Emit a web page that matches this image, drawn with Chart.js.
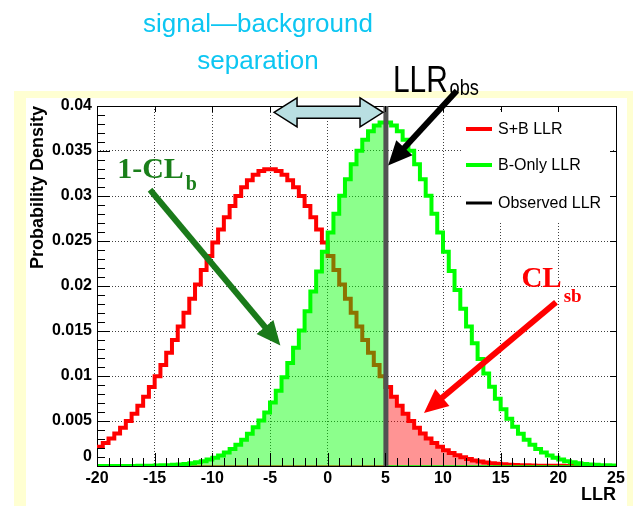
<!DOCTYPE html>
<html>
<head>
<meta charset="utf-8">
<script src="https://cdn.jsdelivr.net/npm/chart.js@4.4.1/dist/chart.umd.min.js"></script>
<style>
  html, body { margin: 0; padding: 0; background: #ffffff; }
  #wrap { position: relative; width: 633px; height: 506px; }
</style>
</head>
<body>
<div id="wrap"><canvas id="llr" width="633" height="506"></canvas></div>
<script>
// Histogram range of the log-likelihood ratio
const llrMin = -20;
const llrMax = 25;
const binWidth = 0.5;
const llrObserved = 5.05;

// S+B hypothesis: probability density per bin
const sbDensity = [
  0.00213, 0.00256, 0.00305, 0.00362, 0.00426, 0.00499, 0.00580, 0.00670, 0.00770, 0.00879,
  0.00997, 0.01123, 0.01258, 0.01401, 0.01549, 0.01702, 0.01859, 0.02018, 0.02177, 0.02332,
  0.02484, 0.02628, 0.02764, 0.02889, 0.03000, 0.03096, 0.03175, 0.03236, 0.03277, 0.03297,
  0.03297, 0.03277, 0.03236, 0.03175, 0.03096, 0.03000, 0.02889, 0.02764, 0.02628, 0.02484,
  0.02332, 0.02177, 0.02018, 0.01859, 0.01702, 0.01549, 0.01401, 0.01258, 0.01123, 0.00997,
  0.00879, 0.00770, 0.00670, 0.00580, 0.00499, 0.00426, 0.00362, 0.00305, 0.00256, 0.00213,
  0.00176, 0.00145, 0.00119, 0.00096, 0.00078, 0.00062, 0.00050, 0.00039, 0.00031, 0.00024,
  0.00019, 0.00015, 0.00011, 0.00009, 0.00007, 0.00005, 0.00004, 0.00003, 0.00002, 0.00002,
  0.00002, 0.00001, 0.00001, 0.00001, 0.00001, 0.00001, 0.00001, 0.00001, 0.00001, 0.00001
];

// Background-only hypothesis: probability density per bin
const bDensity = [
  0.00000, 0.00000, 0.00000, 0.00000, 0.00001, 0.00001, 0.00001, 0.00002, 0.00002, 0.00003,
  0.00005, 0.00007, 0.00009, 0.00013, 0.00017, 0.00023, 0.00031, 0.00041, 0.00054, 0.00071,
  0.00092, 0.00117, 0.00149, 0.00188, 0.00235, 0.00291, 0.00358, 0.00430, 0.00505, 0.00595,
  0.00705, 0.00835, 0.00985, 0.01145, 0.01315, 0.01505, 0.01720, 0.01940, 0.02160, 0.02381,
  0.02594, 0.02804, 0.03003, 0.03186, 0.03354, 0.03503, 0.03625, 0.03719, 0.03782, 0.03816,
  0.03816, 0.03782, 0.03719, 0.03625, 0.03503, 0.03354, 0.03186, 0.03003, 0.02804, 0.02594,
  0.02381, 0.02167, 0.01955, 0.01748, 0.01551, 0.01364, 0.01189, 0.01028, 0.00880, 0.00748,
  0.00630, 0.00526, 0.00436, 0.00358, 0.00291, 0.00235, 0.00188, 0.00149, 0.00117, 0.00092,
  0.00071, 0.00054, 0.00041, 0.00031, 0.00023, 0.00017, 0.00013, 0.00009, 0.00007, 0.00005
];

// Axis tick values
const llrTicks = [-20, -15, -10, -5, 0, 5, 10, 15, 20, 25];
const densityTicks = [0, 0.005, 0.01, 0.015, 0.02, 0.025, 0.03, 0.035, 0.04];

// Annotation anchors in (LLR, density) units
const arrows = [
  { from: [11.2, 0.0417], to: [5.24, 0.0334], color: '#000000' },
  { from: [-15.4, 0.0307], to: [-4.1, 0.0134], color: '#1a7a1a' },
  { from: [19.8, 0.0182], to: [8.35, 0.0059], color: '#ff0000' }
];
const separationSpan = { from: -4.65, to: 4.8, density: 0.0393 };
const clLabels = [
  { main: '1-CL', sub: 'b', at: [-18.25, 0.0320], color: '#1a7f1a', size: 30, subSize: 20, drop: 12 },
  { main: 'CL', sub: 'sb', at: [16.8, 0.0199], color: '#ff0000', size: 29, subSize: 19, drop: 15 }
];

const SANS = '"Liberation Sans", Arial, Helvetica, sans-serif';
const SERIF = '"Liberation Serif", "Times New Roman", serif';

const binCount = sbDensity.length;
const binEdges = Array.from({ length: binCount + 1 }, (_, i) => llrMin + i * binWidth);

// Step outline of a histogram: each point opens a bin, the last one closes it
function histPoints(values) {
  const pts = values.map((v, i) => ({ x: binEdges[i], y: v }));
  pts.push({ x: binEdges[binCount], y: values[binCount - 1] });
  return pts;
}

// Part of a histogram on one side of the observed LLR (zero elsewhere)
function tailPoints(values, keepLeft) {
  const cut = Math.floor((llrObserved - llrMin) / binWidth);
  const pts = [];
  for (let i = 0; i < binCount; i++) {
    if (i === cut) {
      pts.push({ x: binEdges[i], y: keepLeft ? values[i] : 0 });
      pts.push({ x: llrObserved, y: keepLeft ? 0 : values[i] });
    } else {
      const inside = keepLeft ? i < cut : i > cut;
      pts.push({ x: binEdges[i], y: inside ? values[i] : 0 });
    }
  }
  pts.push({ x: binEdges[binCount], y: keepLeft ? 0 : values[binCount - 1] });
  return pts;
}

function drawArrow(ctx, x0, y0, x1, y1, color, lw, hl, hw) {
  const dx = x1 - x0, dy = y1 - y0, L = Math.hypot(dx, dy);
  const ux = dx / L, uy = dy / L;
  const bx = x1 - ux * hl, by = y1 - uy * hl;
  ctx.strokeStyle = color;
  ctx.lineWidth = lw;
  ctx.lineCap = 'butt';
  ctx.beginPath();
  ctx.moveTo(x0, y0);
  ctx.lineTo(bx + ux * 2, by + uy * 2);
  ctx.stroke();
  ctx.fillStyle = color;
  ctx.beginPath();
  ctx.moveTo(x1, y1);
  ctx.lineTo(bx - uy * hw / 2, by + ux * hw / 2);
  ctx.lineTo(bx + uy * hw / 2, by - ux * hw / 2);
  ctx.closePath();
  ctx.fill();
}

const legendItems = [
  { label: 'S+B LLR', color: '#ff0000', width: 4 },
  { label: 'B-Only LLR', color: '#00ff00', width: 4 },
  { label: 'Observed LLR', color: '#000000', width: 3 }
];

const decor = {
  id: 'decor',
  beforeDraw(chart) {
    const { ctx, width, height } = chart;
    ctx.save();
    ctx.fillStyle = '#ffffff';
    ctx.fillRect(0, 0, width, height);
    ctx.fillStyle = '#ffffd2';
    ctx.fillRect(14, 91, width - 14, height - 91);
    ctx.fillStyle = '#ffffff';
    ctx.fillRect(26, 98, 601, height - 98);
    ctx.restore();
  },
  beforeDatasetsDraw(chart) {
    const { ctx, chartArea: a } = chart;
    ctx.save();
    ctx.strokeStyle = '#000000';
    ctx.lineWidth = 1;
    ctx.strokeRect(Math.round(a.left) + 0.5, Math.round(a.top) + 0.5,
                   Math.round(a.right - a.left), Math.round(a.bottom - a.top));
    ctx.restore();
  },
  afterDatasetsDraw(chart) {
    const { ctx, chartArea: a, scales: { x, y } } = chart;
    const X = v => x.getPixelForValue(v);
    const Y = v => y.getPixelForValue(v);
    ctx.save();

    // legend panel
    const lx = a.right - 154, ly = a.top + 6;
    ctx.fillStyle = '#ffffff';
    ctx.fillRect(lx, ly, 150, 110);
    const rows = [23, 59, 97];
    legendItems.forEach((it, i) => {
      const ry = a.top + rows[i];
      ctx.strokeStyle = it.color;
      ctx.lineWidth = it.width;
      ctx.beginPath();
      ctx.moveTo(lx + 4, ry);
      ctx.lineTo(lx + 30, ry);
      ctx.stroke();
      ctx.fillStyle = '#000000';
      ctx.font = '16px ' + SANS;
      ctx.textBaseline = 'middle';
      ctx.textAlign = 'left';
      ctx.fillText(it.label, lx + 36, ry + 1);
    });

    // inward tick marks on the frame
    ctx.strokeStyle = '#000000';
    ctx.lineWidth = 1;
    ctx.beginPath();
    for (let v = llrMin; v <= llrMax; v += 1) {
      const px = Math.round(X(v)) + 0.5;
      const major = (v - llrMin) % 5 === 0;
      ctx.moveTo(px, a.bottom);
      ctx.lineTo(px, a.bottom - (major ? 13 : 8));
      if (major) { ctx.moveTo(px, a.top); ctx.lineTo(px, a.top + 6); }
    }
    for (let k = 0; k <= 40; k++) {
      const py = Math.round(Y(k * 0.001)) + 0.5;
      const major = k % 5 === 0;
      ctx.moveTo(a.left, py);
      ctx.lineTo(a.left + (major ? 13 : 8), py);
      if (major) { ctx.moveTo(a.right, py); ctx.lineTo(a.right - 6, py); }
    }
    ctx.stroke();

    // lone zero label on the density axis, raised clear of the LLR labels
    ctx.fillStyle = '#000000';
    ctx.font = 'bold 16px ' + SANS;
    ctx.textAlign = 'right';
    ctx.textBaseline = 'middle';
    ctx.fillText('0', a.left - 5, Y(0) - 9);

    // double arrow marking the separation between the hypotheses
    const L = X(separationSpan.from), R = X(separationSpan.to), cy = Y(separationSpan.density);
    const hl = 23, hh = 14.5, bh = 6;
    ctx.beginPath();
    ctx.moveTo(L, cy);
    ctx.lineTo(L + hl, cy - hh);
    ctx.lineTo(L + hl, cy - bh);
    ctx.lineTo(R - hl, cy - bh);
    ctx.lineTo(R - hl, cy - hh);
    ctx.lineTo(R, cy);
    ctx.lineTo(R - hl, cy + hh);
    ctx.lineTo(R - hl, cy + bh);
    ctx.lineTo(L + hl, cy + bh);
    ctx.lineTo(L + hl, cy + hh);
    ctx.closePath();
    ctx.fillStyle = '#b9dfe2';
    ctx.fill();
    ctx.strokeStyle = '#000000';
    ctx.lineWidth = 1.5;
    ctx.lineJoin = 'miter';
    ctx.stroke();

    // pointer arrows
    arrows.forEach(ar => {
      drawArrow(ctx, X(ar.from[0]), Y(ar.from[1]), X(ar.to[0]), Y(ar.to[1]), ar.color, 6, 24, 22);
    });

    // confidence-level labels
    clLabels.forEach(lb => {
      const px = X(lb.at[0]), py = Y(lb.at[1]);
      ctx.fillStyle = lb.color;
      ctx.textAlign = 'left';
      ctx.textBaseline = 'alphabetic';
      ctx.font = 'bold ' + lb.size + 'px ' + SERIF;
      ctx.fillText(lb.main, px, py);
      const w = ctx.measureText(lb.main).width;
      ctx.font = 'bold ' + lb.subSize + 'px ' + SERIF;
      ctx.fillText(lb.sub, px + w + 2, py + lb.drop);
    });

    // headline above the plot
    ctx.fillStyle = '#0cc6f2';
    ctx.font = '26px ' + SANS;
    ctx.textAlign = 'center';
    ctx.textBaseline = 'alphabetic';
    ctx.fillText('signal\u2014background', 258, 32);
    ctx.fillText('separation', 258, 69);

    // observed LLR caption
    ctx.fillStyle = '#000000';
    ctx.textAlign = 'left';
    ctx.save();
    ctx.translate(393, 92);
    ctx.scale(0.83, 1);
    ctx.font = '36px ' + SANS;
    ctx.fillText('LLR', 0, 0);
    const lw = ctx.measureText('LLR').width;
    ctx.font = '22px ' + SANS;
    ctx.fillText('obs', lw + 2, 3);
    ctx.restore();

    ctx.restore();
  }
};

new Chart(document.getElementById('llr'), {
  type: 'line',
  data: {
    datasets: [
      {
        label: 'Observed LLR',
        data: [{ x: llrObserved, y: 0 }, { x: llrObserved, y: 0.04 }],
        borderColor: '#525252',
        borderWidth: 5,
        pointRadius: 0,
        fill: false,
        order: 0
      },
      {
        label: 'B-Only LLR',
        data: histPoints(bDensity),
        borderColor: '#00ff00',
        borderWidth: 4,
        borderJoinStyle: 'miter',
        stepped: true,
        pointRadius: 0,
        fill: false,
        order: 1
      },
      {
        label: '1-CLb',
        data: tailPoints(bDensity, true),
        borderColor: '#00ff00',
        borderWidth: 1.5,
        backgroundColor: 'rgba(0,255,0,0.45)',
        stepped: true,
        pointRadius: 0,
        fill: 'origin',
        order: 2
      },
      {
        label: 'S+B LLR',
        data: histPoints(sbDensity),
        borderColor: '#ff0000',
        borderWidth: 4,
        borderJoinStyle: 'miter',
        stepped: true,
        pointRadius: 0,
        fill: false,
        order: 3
      },
      {
        label: 'CLsb',
        data: tailPoints(sbDensity, false),
        borderColor: '#ff0000',
        borderWidth: 1.5,
        backgroundColor: 'rgba(255,0,0,0.42)',
        stepped: true,
        pointRadius: 0,
        fill: 'origin',
        order: 4
      }
    ]
  },
  options: {
    responsive: false,
    animation: false,
    devicePixelRatio: 1,
    layout: { padding: { left: 0, top: 106, right: 17, bottom: 0 } },
    plugins: {
      legend: { display: false },
      tooltip: { enabled: false }
    },
    scales: {
      x: {
        type: 'linear',
        min: llrMin,
        max: llrMax,
        afterBuildTicks: s => { s.ticks = llrTicks.map(v => ({ value: v })); },
        afterFit: s => { s.height = 40; },
        ticks: {
          color: '#000000',
          padding: 3,
          maxRotation: 0,
          autoSkip: false,
          font: { family: SANS, size: 16, weight: 'bold' }
        },
        grid: { color: 'rgba(0,0,0,0.75)', lineWidth: 1, drawTicks: false },
        border: { display: false, dash: [1, 2] },
        title: {
          display: true,
          text: 'LLR',
          align: 'end',
          color: '#000000',
          padding: { top: 0, bottom: 0 },
          font: { family: SANS, size: 18, weight: 'bold' }
        }
      },
      y: {
        type: 'linear',
        min: 0,
        max: 0.04,
        afterBuildTicks: s => { s.ticks = densityTicks.map(v => ({ value: v })); },
        afterFit: s => { s.width = 97; },
        ticks: {
          color: '#000000',
          padding: 5,
          autoSkip: false,
          font: { family: SANS, size: 16, weight: 'bold' },
          callback: v => (v === 0 ? '' : String(+v.toFixed(3)))
        },
        grid: { color: 'rgba(0,0,0,0.75)', lineWidth: 1, drawTicks: false },
        border: { display: false, dash: [1, 2] },
        title: {
          display: true,
          text: 'Probability Density',
          align: 'end',
          color: '#000000',
          padding: { top: 27, bottom: 0 },
          font: { family: SANS, size: 18, weight: 'bold' }
        }
      }
    }
  },
  plugins: [decor]
});
</script>
</body>
</html>
